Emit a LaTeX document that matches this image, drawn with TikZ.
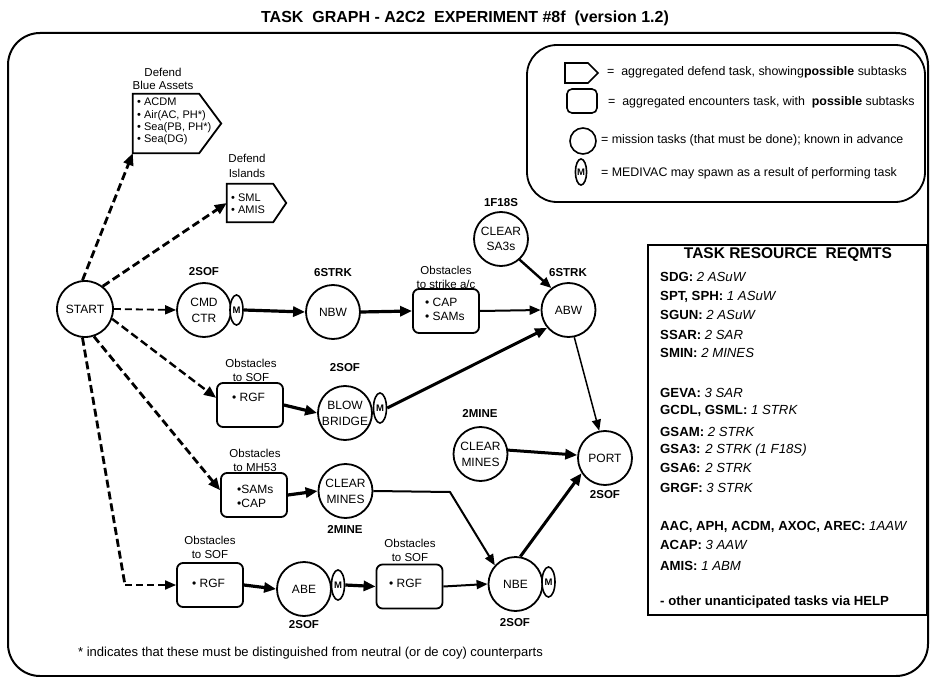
\documentclass[tikz,border=0pt]{standalone}
\usepackage{fontspec}
\setmainfont{Liberation Sans}
\usetikzlibrary{arrows.meta,shapes.geometric,calc}
\newcommand{\myFnode}{\fontsize{12}{16}\selectfont}
\newcommand{\myFcap}{\fontsize{11.5}{14}\selectfont}
\newcommand{\myFlab}{\bfseries\fontsize{11.5}{14}\selectfont}
\newcommand{\myFleg}{\fontsize{12.4}{14}\selectfont}
\newcommand{\myFreq}{\fontsize{13.2}{15}\selectfont}
\newcommand{\myFitem}{\fontsize{12}{14}\selectfont}
\newcommand{\myFsmall}{\fontsize{11}{12.3}\selectfont}
\tikzset{
  task/.style={circle, draw, line width=1.8pt, minimum size=54pt, inner sep=0pt, align=center, font=\myFnode},
  enc/.style={draw, rounded corners=6pt, line width=1.8pt, minimum width=66pt, minimum height=44pt, inner sep=0pt},
  medi/.style={ellipse, draw, fill=white, line width=1.6pt, minimum width=13pt, minimum height=30pt, inner sep=0pt, font=\bfseries\fontsize{9.5}{10}\selectfont},
  lab/.style={font=\myFlab, inner sep=0pt},
  capt/.style={align=center, font=\myFcap, inner sep=0pt},
  itm/.style={align=left, font=\myFitem, inner sep=0pt, anchor=west},
  req/.style={anchor=west, font=\myFreq, inner sep=0pt},
  dth/.style={line width=2.8pt, dash pattern=on 8pt off 4pt},
  dtn/.style={line width=1.8pt, dash pattern=on 7pt off 4pt},
  tipA/.style={-{Triangle[length=12pt,width=10pt]}},
  tipB/.style={-{Triangle[length=11pt,width=9pt]}},
  thk/.style={line width=3.2pt, tipA},
  mid/.style={line width=2pt, tipB},
  thn/.style={line width=1.5pt, tipB},
}
\begin{document}
\begin{tikzpicture}[x=1pt,y=-1pt]
\useasboundingbox (0,0) rectangle (930,677);
% outer frame
\draw[line width=2pt, rounded corners=32pt] (8,33) rectangle (928,676);
% title
\node (title) at (465,18) {\bfseries\fontsize{16}{18}\selectfont TASK\ \ GRAPH - A2C2\ \ EXPERIMENT \#8f\ \ (version 1.2)};

% legend
\draw[line width=1.8pt, rounded corners=30pt] (527,45) rectangle (925,202);
\draw[line width=1.6pt] (565,63) -- (588,63) -- (598,73) -- (588,83) -- (565,83) -- cycle;
\node[draw, rounded corners=5pt, line width=1.6pt, minimum width=30pt, minimum height=24pt] (lgbox) at (582,101) {};
\node[circle, draw, line width=1.6pt, minimum size=26pt, inner sep=0pt] (lgcirc) at (583,141) {};
\node[medi, minimum width=11pt, minimum height=26pt] (lgm) at (581,172) {M};
\node[anchor=west, font=\myFleg, inner sep=0pt] (lg1) at (607,72) {=\ \ aggregated defend task, showing\textbf{possible} subtasks};
\node[anchor=west, font=\myFleg, inner sep=0pt] (lg2) at (608,102) {=\ \ aggregated encounters task, with\ \ \textbf{possible} subtasks};
\node[anchor=west, font=\myFleg, inner sep=0pt] (lg3) at (601,140) {= mission tasks (that must be done); known in advance};
\node[anchor=west, font=\myFleg, inner sep=0pt] (lg4) at (601,173) {= MEDIVAC may spawn as a result of performing task};

% task resource box
\draw[line width=2pt] (648,245) rectangle (927,615);
\node[font=\bfseries\fontsize{15.5}{17}\selectfont] (reqt) at (788,255) {TASK RESOURCE\ \ REQMTS};
\node[req] (r1) at (660,277) {\textbf{SDG:} \textit{2 ASuW}};
\node[req] (r2) at (660,297) {\textbf{SPT, SPH:} \textit{1 ASuW}};
\node[req] (r3) at (660,315) {\textbf{SGUN:} \textit{2 ASuW}};
\node[req] (r4) at (660,335) {\textbf{SSAR:} \textit{2 SAR}};
\node[req] (r5) at (660,353) {\textbf{SMIN:} \textit{2 MINES}};
\node[req] (r6) at (660,393) {\textbf{GEVA:} \textit{3 SAR}};
\node[req] (r7) at (660,411) {\textbf{GCDL, GSML:} \textit{1 STRK}};
\node[req] (r8) at (660,432) {\textbf{GSAM:} \textit{2 STRK}};
\node[req] (r9) at (660,450) {\textbf{GSA3:} \textit{2 STRK (1 F18S)}};
\node[req] (r10) at (660,468) {\textbf{GSA6:} \textit{2 STRK}};
\node[req] (r11) at (660,488) {\textbf{GRGF:} \textit{3 STRK}};
\node[req] (r12) at (660,527) {\textbf{AAC, APH, ACDM, AXOC, AREC:} \textit{1AAW}};
\node[req] (r13) at (660,545) {\textbf{ACAP:} \textit{3 AAW}};
\node[req] (r14) at (660,566) {\textbf{AMIS:} \textit{1 ABM}};
\node[req] (r15) at (660,602) {\textbf{- other unanticipated tasks via HELP}};

% defend blue assets
\node[minimum width=66pt, minimum height=59pt, inner sep=0pt] (dba) at (166,123.5) {};
\draw[line width=1.8pt] (dba.north west) -- (dba.north east) -- ($(dba.east)+(22,0)$) -- (dba.south east) -- (dba.south west) -- cycle;
\node[capt, font=\fontsize{11.5}{13}\selectfont] (dbacap) at (163,78.5) {Defend\\Blue Assets};
\node[itm, font=\myFsmall] (dbait) at (137,121.5) {• ACDM\\• Air(AC, PH*)\\• Sea(PB, PH*)\\• Sea(DG)};
% defend islands
\node[minimum width=46pt, minimum height=38pt, inner sep=0pt] (dis) at (250,203) {};
\draw[line width=1.8pt] (dis.north west) -- (dis.north east) -- ($(dis.east)+(13,0)$) -- (dis.south east) -- (dis.south west) -- cycle;
\node[capt, font=\fontsize{11.5}{15}\selectfont] (discap) at (247,165.5) {Defend\\Islands};
\node[itm, font=\myFsmall] (disit) at (231,204) {• SML\\• AMIS};

% mission tasks
\node[task, minimum size=56pt] (start) at (85,309) {START};
\node[task] (cmd) at (204,310) {CMD\\CTR};
\node[medi] (m1) at (236.5,310) {M};
\node[task] (nbw) at (333,312) {NBW};
\node[task] (abw) at (568.5,310) {ABW};
\node[task, font=\fontsize{12}{15}\selectfont] (sa3) at (501,239) {CLEAR\\SA3s};
\node[task] (blow) at (345,413) {BLOW\\BRIDGE};
\node[medi] (m2) at (380,408) {M};
\node[task] (cm1) at (345.5,491) {CLEAR\\MINES};
\node[task] (abe) at (304,589) {ABE};
\node[medi] (m3) at (338,585) {M};
\node[task] (nbe) at (515.5,584) {NBE};
\node[medi] (m4) at (548.5,582) {M};
\node[task] (cm2) at (480.5,454) {CLEAR\\MINES};
\node[task] (port) at (605,458) {PORT};

% resource labels
\node[lab] (l1) at (204,272) {2SOF};
\node[lab] (l2) at (333,273) {6STRK};
\node[lab] (l3) at (568,273) {6STRK};
\node[lab] (l4) at (501,203) {1F18S};
\node[lab] (l5) at (345,368) {2SOF};
\node[lab] (l6) at (345,529) {2MINE};
\node[lab] (l7) at (304,625) {2SOF};
\node[lab] (l8) at (515,623) {2SOF};
\node[lab] (l9) at (480,413) {2MINE};
\node[lab] (l10) at (605,495) {2SOF};

% encounter boxes
\node[enc] (o1) at (446,311) {};
\node[capt] (o1c) at (446,277) {Obstacles\\to strike a/c};
\node[itm] (o1t) at (425,309) {• CAP\\• SAMs};
\node[enc] (o2) at (250,405) {};
\node[capt] (o2c) at (251,370) {Obstacles\\to SOF};
\node[itm] (o2t) at (232,397) {• RGF};
\node[enc] (o3) at (254,495) {};
\node[capt] (o3c) at (255,460) {Obstacles\\to MH53};
\node[itm] (o3t) at (237,496) {•SAMs\\•CAP};
\node[enc] (o4) at (210,585) {};
\node[capt] (o4c) at (210,547) {Obstacles\\to SOF};
\node[itm] (o4t) at (192,583) {• RGF};
\node[enc] (o5) at (409.5,586.5) {};
\node[capt] (o5c) at (410,550) {Obstacles\\to SOF};
\node[itm] (o5t) at (389,583) {• RGF};

% dashed connectors from START
\draw[dth, tipA] (start.95) -- (dba.south west);
\draw[dth, tipA] (start.52) -- (dis.west);
\draw[dtn, tipB] (start.east) -- (cmd.west);
\draw[line width=2.4pt, dash pattern=on 8pt off 4pt, tipA] (start.-20) -- (o2.168);
\draw[dth, tipA] (start.-72) -- (o3.172);
\coordinate (c5) at (125,585);
\draw[dth] (start.-95) -- (c5);
\draw[dtn, tipB] (c5) -- (o4.west);

% solid connectors
\draw[thk] (m1.east) -- (nbw.west);
\draw[thk] (nbw.east) -- (o1.west);
\draw[mid] (o1.east) -- (abw.west);
\draw[line width=2.4pt, tipB] (sa3.-48) -- (abw.128);
\draw[line width=3pt, tipA] (m2.east) -- (abw.-140);
\draw[thk] (o2.east) -- (blow.west);
\draw[thn] (abw.-78) -- (port.102);
\draw[line width=3pt, tipA] (cm2.8) -- (port.174);
\draw[line width=3pt, tipA] (nbe.80) -- (port.-147);
\draw[thk] (o3.east) -- (cm1.west);
\coordinate (c6) at (450,492);
\draw[mid] (cm1.east) -- (c6) -- (nbe.138);
\draw[thk] (o4.east) -- (abe.west);
\draw[thk] (m3.east) -- (o5.west);
\draw[mid] (o5.east) -- (nbe.west);

% footnote
\node[anchor=west, font=\fontsize{13}{15}\selectfont, inner sep=0pt] (foot) at (78,653) {* indicates that these must be distinguished from neutral (or de coy) counterparts};
\end{tikzpicture}
\end{document}
